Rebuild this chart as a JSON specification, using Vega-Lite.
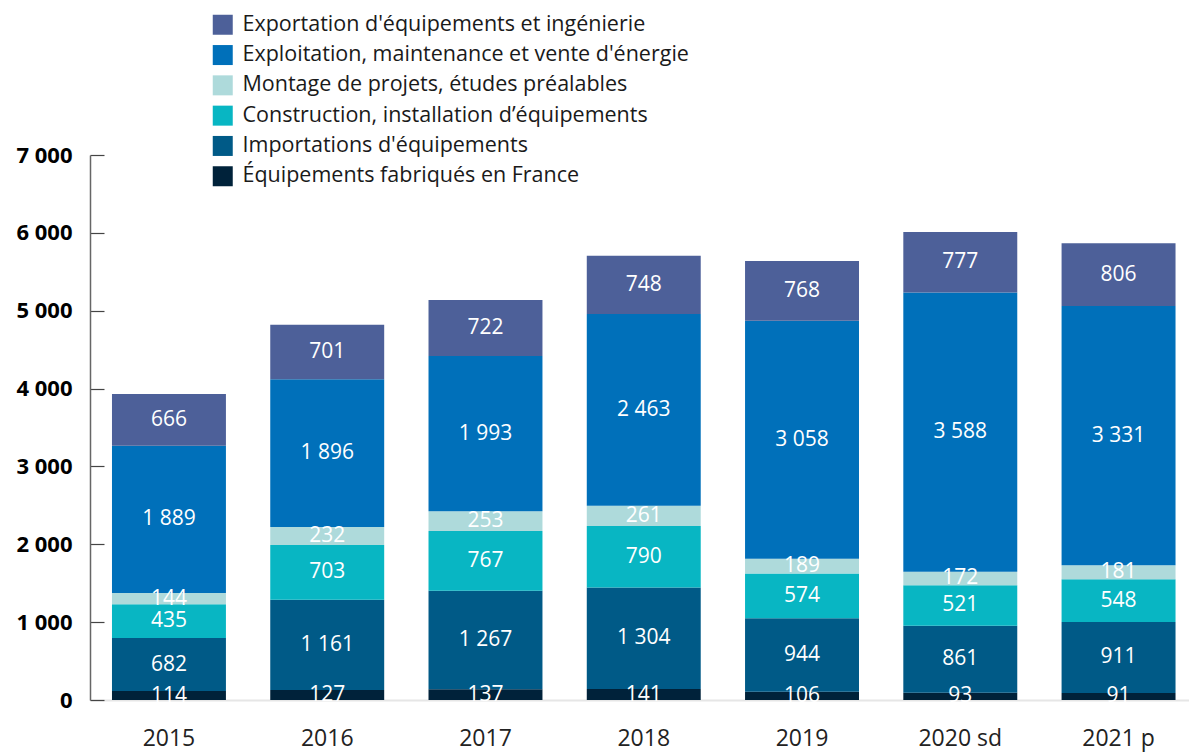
{
  "$schema": "https://vega.github.io/schema/vega-lite/v6.json",
  "width": 1099,
  "height": 545,
  "autosize": {"type": "none"},
  "padding": {"left": 90, "top": 155, "right": 0, "bottom": 53},
  "config": {
    "locale": {"number": {"decimal": ",", "thousands": " ", "grouping": [3], "currency": ["", " €"]}},
    "view": {"stroke": null},
    "font": "Open Sans"
  },
  "data": {
    "values": [
      {"year": "2015", "s": "Équipements fabriqués en France", "k": 1, "v": 114},
      {"year": "2015", "s": "Importations d'équipements", "k": 2, "v": 682},
      {"year": "2015", "s": "Construction, installation d’équipements", "k": 3, "v": 435},
      {"year": "2015", "s": "Montage de projets, études préalables", "k": 4, "v": 144},
      {"year": "2015", "s": "Exploitation, maintenance et vente d'énergie", "k": 5, "v": 1889},
      {"year": "2015", "s": "Exportation d'équipements et ingénierie", "k": 6, "v": 666},
      {"year": "2016", "s": "Équipements fabriqués en France", "k": 1, "v": 127},
      {"year": "2016", "s": "Importations d'équipements", "k": 2, "v": 1161},
      {"year": "2016", "s": "Construction, installation d’équipements", "k": 3, "v": 703},
      {"year": "2016", "s": "Montage de projets, études préalables", "k": 4, "v": 232},
      {"year": "2016", "s": "Exploitation, maintenance et vente d'énergie", "k": 5, "v": 1896},
      {"year": "2016", "s": "Exportation d'équipements et ingénierie", "k": 6, "v": 701},
      {"year": "2017", "s": "Équipements fabriqués en France", "k": 1, "v": 137},
      {"year": "2017", "s": "Importations d'équipements", "k": 2, "v": 1267},
      {"year": "2017", "s": "Construction, installation d’équipements", "k": 3, "v": 767},
      {"year": "2017", "s": "Montage de projets, études préalables", "k": 4, "v": 253},
      {"year": "2017", "s": "Exploitation, maintenance et vente d'énergie", "k": 5, "v": 1993},
      {"year": "2017", "s": "Exportation d'équipements et ingénierie", "k": 6, "v": 722},
      {"year": "2018", "s": "Équipements fabriqués en France", "k": 1, "v": 141},
      {"year": "2018", "s": "Importations d'équipements", "k": 2, "v": 1304},
      {"year": "2018", "s": "Construction, installation d’équipements", "k": 3, "v": 790},
      {"year": "2018", "s": "Montage de projets, études préalables", "k": 4, "v": 261},
      {"year": "2018", "s": "Exploitation, maintenance et vente d'énergie", "k": 5, "v": 2463},
      {"year": "2018", "s": "Exportation d'équipements et ingénierie", "k": 6, "v": 748},
      {"year": "2019", "s": "Équipements fabriqués en France", "k": 1, "v": 106},
      {"year": "2019", "s": "Importations d'équipements", "k": 2, "v": 944},
      {"year": "2019", "s": "Construction, installation d’équipements", "k": 3, "v": 574},
      {"year": "2019", "s": "Montage de projets, études préalables", "k": 4, "v": 189},
      {"year": "2019", "s": "Exploitation, maintenance et vente d'énergie", "k": 5, "v": 3058},
      {"year": "2019", "s": "Exportation d'équipements et ingénierie", "k": 6, "v": 768},
      {"year": "2020 sd", "s": "Équipements fabriqués en France", "k": 1, "v": 93},
      {"year": "2020 sd", "s": "Importations d'équipements", "k": 2, "v": 861},
      {"year": "2020 sd", "s": "Construction, installation d’équipements", "k": 3, "v": 521},
      {"year": "2020 sd", "s": "Montage de projets, études préalables", "k": 4, "v": 172},
      {"year": "2020 sd", "s": "Exploitation, maintenance et vente d'énergie", "k": 5, "v": 3588},
      {"year": "2020 sd", "s": "Exportation d'équipements et ingénierie", "k": 6, "v": 777},
      {"year": "2021 p", "s": "Équipements fabriqués en France", "k": 1, "v": 91},
      {"year": "2021 p", "s": "Importations d'équipements", "k": 2, "v": 911},
      {"year": "2021 p", "s": "Construction, installation d’équipements", "k": 3, "v": 548},
      {"year": "2021 p", "s": "Montage de projets, études préalables", "k": 4, "v": 181},
      {"year": "2021 p", "s": "Exploitation, maintenance et vente d'énergie", "k": 5, "v": 3331},
      {"year": "2021 p", "s": "Exportation d'équipements et ingénierie", "k": 6, "v": 806}
    ]
  },
  "transform": [
    {"stack": "v", "groupby": ["year"], "sort": [{"field": "k", "order": "ascending"}], "as": ["y0", "y1"]},
    {"calculate": "(datum.y0 + datum.y1) / 2", "as": "ym"}
  ],
  "encoding": {
    "x": {
      "field": "year", "type": "nominal", "title": null,
      "scale": {"paddingInner": 0.28, "paddingOuter": 0.112, "align": 0.62},
      "axis": {
        "labelAngle": 0, "labelFontSize": 23, "labelColor": "#222222", "labelPadding": 27,
        "ticks": false, "domainColor": "#e6e6e6", "domainWidth": 2, "labelFont": "Open Sans"
      }
    }
  },
  "layer": [
    {
      "mark": {"type": "bar"},
      "encoding": {
        "y": {
          "field": "y0", "type": "quantitative", "title": null,
          "scale": {"domain": [0, 7000]},
          "axis": {
            "values": [0, 1000, 2000, 3000, 4000, 5000, 6000, 7000],
            "format": ",d", "labelFontSize": 22, "labelFontWeight": "bold", "labelColor": "#000000",
            "grid": false, "domainColor": "#666666", "domainWidth": 1.5,
            "tickColor": "#444444", "tickSize": -14, "tickWidth": 1.2, "labelPadding": 32
          }
        },
        "y2": {"field": "y1"},
        "color": {
          "field": "s", "type": "nominal", "title": null,
          "scale": {
            "domain": ["Exportation d'équipements et ingénierie", "Exploitation, maintenance et vente d'énergie", "Montage de projets, études préalables", "Construction, installation d’équipements", "Importations d'équipements", "Équipements fabriqués en France"],
            "range": ["#4d6099", "#0070ba", "#aedadb", "#08b6c3", "#005a87", "#00223a"]
          },
          "legend": {
            "orient": "none", "legendX": 122, "legendY": -141,
            "symbolType": "square", "symbolSize": 400, "symbolStrokeWidth": 0,
            "labelFontSize": 21.5, "labelColor": "#1a1a1a", "labelOffset": 9,
            "rowPadding": 7.3, "labelLimit": 700
          }
        }
      }
    },
    {
      "mark": {"type": "text", "color": "white", "fontSize": 21, "baseline": "middle", "align": "center"},
      "encoding": {
        "y": {"field": "ym", "type": "quantitative"},
        "text": {"field": "v", "type": "quantitative", "format": ",d"}
      }
    }
  ]
}
